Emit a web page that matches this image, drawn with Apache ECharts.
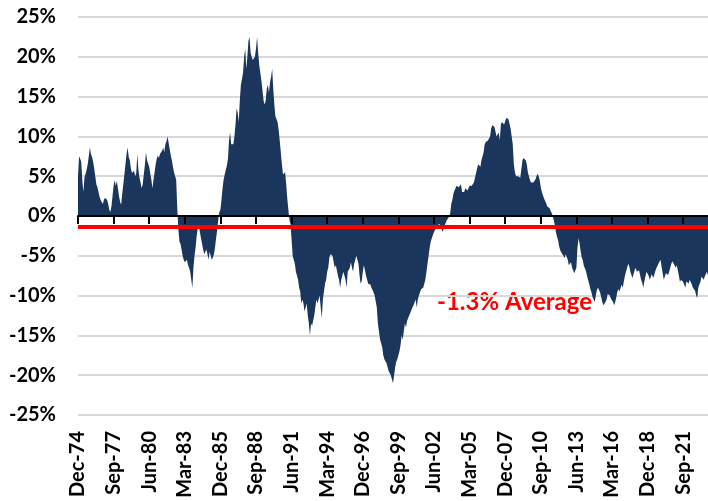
<!DOCTYPE html>
<html>
<head>
<meta charset="utf-8">
<script src="https://cdn.jsdelivr.net/npm/echarts@6/dist/echarts.min.js"></script>
<style>
  html, body { margin: 0; padding: 0; background: #fff; }
  #chart { width: 708px; height: 501px; }
</style>
</head>
<body>
<div id="chart"></div>
<script>
// monthly values in %, Dec-74 .. Aug-23, one year per line
let vals1970s = [
    5.0,
    7.5, 7.2, 6.8, 4.5, 3.0, 4.8, 5.3, 5.8, 6.5, 7.5, 8.6, 7.8,
    7.4, 6.8, 6.0, 5.0, 4.0, 3.6, 3.0, 2.4, 2.0, 1.8, 1.5, 2.0,
    2.3, 2.2, 2.0, 1.5, 0.8, 0.5, 1.2, 2.5, 3.8, 4.5, 3.8, 4.4,
    3.5, 2.5, 1.8, 1.4, 2.8, 4.0, 5.2, 6.5, 7.8, 8.6, 7.4, 7.0,
    6.0, 5.4, 5.2, 5.7, 5.0, 5.4, 7.8, 5.8, 4.8, 4.2, 3.5, 4.0
]
let vals1980s = [
    5.2, 6.4, 8.0, 7.0, 7.2, 6.2, 5.3, 4.6, 3.5, 4.6, 5.5, 6.5,
    7.2, 7.6, 7.3, 7.8, 7.6, 8.2, 8.6, 8.0, 9.0, 9.4, 10.0, 9.2,
    8.4, 7.6, 7.0, 6.2, 5.5, 5.0, 4.6, 1.0, -1.5, -3.2, -3.5, -4.2,
    -5.0, -5.5, -5.8, -6.0, -5.5, -6.2, -6.5, -7.0, -7.2, -9.0, -6.5, -5.0,
    -4.0, -2.5, -1.5, -1.2, -2.0, -2.8, -3.5, -4.2, -4.8, -5.0, -4.2, -4.8,
    -5.5, -4.5, -5.0, -5.5, -5.2, -4.8, -4.0, -2.8, -1.8, -0.5, 0.5, 0.8,
    2.0, 3.5, 4.6, 5.2, 5.8, 6.3, 7.2, 9.5, 10.5, 9.0, 9.2, 9.0,
    10.0, 11.5, 13.5, 13.0, 11.8, 14.5, 16.5, 17.2, 18.0, 20.0, 21.0, 18.5,
    20.0, 22.0, 22.5, 20.5, 20.0, 19.6, 19.5, 20.0, 21.0, 22.5, 20.5, 19.0,
    18.0, 17.0, 15.8, 14.5, 14.0, 14.5, 16.0, 16.5, 15.5, 16.8, 17.5, 18.5
]
let vals1990s = [
    16.0, 14.0, 12.5, 12.2, 11.8, 10.8, 9.5, 8.0, 6.5, 5.2, 5.0, 5.5,
    4.0, 2.2, 0.8, -0.5, -1.0, -3.0, -5.0, -5.5, -6.0, -7.0, -7.5, -8.0,
    -9.0, -9.5, -11.0, -10.5, -11.0, -12.0, -11.5, -11.0, -12.5, -13.5, -15.0, -13.5,
    -13.8, -14.0, -12.5, -11.5, -10.5, -11.0, -10.5, -10.0, -11.5, -12.8, -10.5, -9.5,
    -8.5, -8.0, -7.0, -6.5, -5.2, -4.8, -4.6, -5.0, -5.8, -6.5, -6.2, -6.0,
    -7.5, -8.0, -9.0, -8.0, -7.5, -7.0, -7.5, -8.0, -9.0, -7.0, -6.8, -6.5,
    -5.8, -6.5, -7.0, -6.0, -5.5, -5.0, -5.2, -6.0, -7.5, -8.5, -8.2, -7.0,
    -6.2, -6.8, -7.5, -8.0, -8.5, -8.4, -8.6, -9.0, -9.3, -9.6, -10.0, -10.2,
    -11.5, -13.5, -14.5, -15.5, -16.0, -16.5, -17.5, -18.0, -18.0, -18.5, -19.0, -19.5,
    -19.5, -20.0, -20.5, -21.0, -20.0, -19.0, -18.3, -18.0, -17.5, -17.0, -16.2, -15.0
]
let vals2000s = [
    -15.5, -14.5, -13.5, -14.0, -13.2, -13.0, -12.5, -12.2, -12.0, -11.5, -11.2, -11.0,
    -10.5, -11.5, -10.5, -10.0, -9.6, -9.2, -9.0, -9.0, -8.5, -8.0, -7.0, -6.0,
    -5.0, -4.0, -3.2, -2.8, -2.4, -2.0, -1.8, -1.5, -1.2, -1.0, -1.0, -1.3,
    -1.6, -2.0, -1.8, -1.2, -0.8, -0.5, -0.3, -0.1, 0.3, 1.5, 2.0, 2.8,
    3.2, 3.5, 3.8, 4.0, 3.6, 3.8, 4.0, 3.0, 2.8, 3.0, 3.5, 3.3,
    3.2, 3.5, 3.8, 4.0, 3.8, 4.0, 4.2, 4.8, 5.0, 6.0, 6.5, 6.4,
    6.2, 7.0, 7.5, 8.0, 9.0, 9.3, 9.5, 9.5, 9.7, 10.0, 11.0, 11.4,
    11.5, 11.2, 11.0, 10.0, 10.2, 10.5, 9.5, 11.5, 11.8, 12.0, 11.5, 11.6,
    12.3, 12.3, 12.2, 12.0, 11.0, 10.0, 9.0, 6.5, 5.5, 5.0, 4.9, 5.0,
    5.0, 4.8, 4.8, 7.0, 7.3, 7.5, 7.0, 6.5, 5.5, 5.0, 4.5, 4.2
]
let vals2010s = [
    4.0, 4.2, 4.4, 4.6, 5.0, 5.3, 5.0, 4.5, 3.6, 3.0, 2.6, 2.2,
    2.0, 1.6, 1.2, 1.0, 1.0, 0.7, 0.4, 0.1, -0.5, -1.2, -2.0, -2.6,
    -3.0, -3.8, -4.3, -4.6, -4.4, -5.0, -5.3, -4.8, -5.0, -5.5, -6.2, -6.0,
    -5.8, -6.5, -6.8, -7.2, -7.0, -6.5, -4.0, -2.8, -3.5, -4.5, -5.2, -5.6,
    -6.3, -6.6, -7.0, -7.6, -7.8, -8.6, -9.2, -9.6, -10.2, -10.5, -10.8, -10.0,
    -9.3, -9.0, -9.3, -9.6, -10.2, -10.8, -11.2, -11.0, -10.8, -10.5, -9.8, -9.6,
    -10.0, -10.4, -10.6, -10.8, -11.2, -10.8, -10.2, -9.5, -9.2, -9.5, -9.0, -8.6,
    -9.0, -8.2, -7.5, -7.0, -6.5, -6.0, -6.3, -7.0, -7.4, -7.8, -8.0, -6.8,
    -6.5, -7.0, -7.0, -6.8, -7.4, -8.0, -8.4, -9.0, -8.2, -7.6, -7.0, -7.2,
    -7.5, -8.0, -7.8, -7.3, -7.8, -7.5, -7.0, -6.6, -6.3, -6.0, -5.8, -5.5
]
let vals2020s = [
    -6.4, -7.2, -8.0, -7.6, -7.2, -7.0, -7.4, -7.0, -6.5, -6.0, -5.7, -5.5,
    -6.2, -6.5, -6.2, -6.8, -7.5, -8.3, -8.0, -7.8, -8.3, -8.5, -9.0, -8.2,
    -8.0, -8.5, -8.0, -8.2, -8.6, -9.0, -9.0, -9.4, -10.0, -10.3, -9.0, -8.6,
    -8.3, -7.6, -7.8, -8.0, -7.6, -7.4, -7.0, -7.5
]
let average = -1.3
let yTicks = [-25, 25, 5]

let monthNames = ['Jan', 'Feb', 'Mar', 'Apr', 'May', 'Jun', 'Jul', 'Aug', 'Sep', 'Oct', 'Nov', 'Dec']
let values = [].concat(vals1970s, vals1980s, vals1990s, vals2000s, vals2010s, vals2020s)
let months = []
for (let i = 0; i < values.length; i++) {
    let m = 11 + i
    let yr = (1974 + Math.floor(m / 12)) % 100
    months.push(monthNames[m % 12] + '-' + String(yr).padStart(2, '0'))
}

let font = 'Lato, "Open Sans", sans-serif'
let chart = echarts.init(document.getElementById('chart'))
chart.setOption({
    animation: false,
    grid: { left: 78, right: 0, top: 17, bottom: 86 },
    xAxis: [
        {
            // zero line with ticks pointing down
            type: 'category',
            data: months,
            boundaryGap: false,
            position: 'bottom',
            z: 5,
            axisLine: { onZero: true, lineStyle: { color: '#000', width: 2 } },
            axisTick: { show: true, interval: 32, length: 8, lineStyle: { color: '#000', width: 2 } },
            axisLabel: { show: false },
            splitLine: { show: false },
        },
        {
            // labels along the bottom
            type: 'category',
            data: months,
            boundaryGap: false,
            position: 'bottom',
            axisLine: { show: false, onZero: false },
            axisTick: { show: false },
            axisLabel: {
                interval: 32,
                rotate: 90,
                margin: 16,
                color: '#000',
                fontWeight: 'bold',
                fontSize: 20,
                fontFamily: font,
            },
            splitLine: { show: false },
        },
    ],
    yAxis: {
        type: 'value',
        min: yTicks[0],
        max: yTicks[1],
        interval: yTicks[2],
        axisLine: { show: false },
        axisTick: { show: false },
        axisLabel: {
            formatter: '{value}%',
            margin: 22,
            color: '#000',
            fontWeight: 'bold',
            fontSize: 20,
            fontFamily: font,
        },
        splitLine: { lineStyle: { color: '#d9d9d9', width: 2 } },
    },
    series: [
        {
            type: 'line',
            xAxisIndex: 0,
            data: values,
            showSymbol: false,
            symbol: 'none',
            sampling: 'none',
            lineStyle: { width: 0 },
            areaStyle: { color: '#1b365d', opacity: 1 },
            markLine: {
                silent: true,
                symbol: 'none',
                label: { show: false },
                lineStyle: { color: '#ff0000', width: 4, type: 'solid' },
                data: [{ yAxis: average }],
            },
        },
    ],
    graphic: [
        {
            type: 'text',
            left: 437,
            top: 290,
            style: {
                text: average + '% Average',
                fill: '#ff0000',
                fontWeight: 'bold',
                fontSize: 24,
                fontFamily: font,
            },
        },
    ],
})
</script>
</body>
</html>
